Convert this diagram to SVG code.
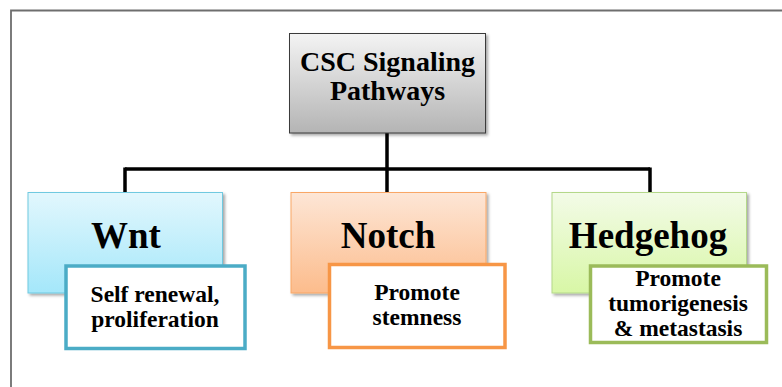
<svg xmlns="http://www.w3.org/2000/svg" width="782" height="387" viewBox="0 0 782 387">
<defs>
<linearGradient id="gGray" x1="0" y1="0" x2="0" y2="1"><stop offset="0" stop-color="#f4f4f4"/><stop offset="1" stop-color="#b4b4b4"/></linearGradient>
<linearGradient id="gBlue" x1="0" y1="0" x2="0" y2="1"><stop offset="0" stop-color="#e2f7fd"/><stop offset="1" stop-color="#a4e7fa"/></linearGradient>
<linearGradient id="gOrange" x1="0" y1="0" x2="0" y2="1"><stop offset="0" stop-color="#fde6d6"/><stop offset="1" stop-color="#fcbc8c"/></linearGradient>
<linearGradient id="gGreen" x1="0" y1="0" x2="0" y2="1"><stop offset="0" stop-color="#f3fbe8"/><stop offset="1" stop-color="#d8f7a6"/></linearGradient>
<filter id="sh" x="-10%" y="-10%" width="130%" height="130%"><feDropShadow dx="2" dy="2" stdDeviation="1.5" flood-color="#000" flood-opacity="0.35"/></filter>
</defs>
<style>
.t{font-family:'Liberation Serif','DejaVu Serif',serif;font-weight:bold;fill:#000;text-anchor:middle}
.big{font-size:37px}
.title{font-size:28px}
.sub{font-size:23.5px}
.conn{stroke:#000;stroke-width:3.5;fill:none}
.white{fill:#fff;stroke-width:3.5}
</style>
<path d="M11 387 V10.5 H782" fill="none" stroke="#6e6e6e" stroke-width="1.8"/>
<g id="connectors">
<path class="conn" d="M387 133 V169"/>
<path class="conn" d="M125 169 H650"/>
<path class="conn" d="M125 167.5 V193 M387 169 V193 M650 167.5 V193"/>
</g>
<g id="root">
<rect x="289.5" y="33.5" width="196" height="99.5" fill="url(#gGray)" stroke="#3a3a3a" stroke-width="1" filter="url(#sh)"/>
<text class="t title" font-family="Liberation Serif, serif" x="387.5" y="71">CSC Signaling</text>
<text class="t title" font-family="Liberation Serif, serif" x="387.5" y="100">Pathways</text>
</g>
<g id="wnt">
<rect x="28" y="192.5" width="194.5" height="100.5" fill="url(#gBlue)" stroke="#6fc9e0" stroke-width="1" filter="url(#sh)"/>
<text class="t big" font-family="Liberation Serif, serif" x="126" y="248">Wnt</text>
</g>
<g id="wnt-desc">
<rect class="white" x="66" y="266" width="179" height="82.5" stroke="#4bacc6"/>
<text class="t sub" font-family="Liberation Serif, serif" x="155" y="302">Self renewal,</text>
<text class="t sub" font-family="Liberation Serif, serif" x="155" y="327">proliferation</text>
</g>
<g id="notch">
<rect x="291" y="192.5" width="195" height="100.5" fill="url(#gOrange)" stroke="#f9a766" stroke-width="1" filter="url(#sh)"/>
<text class="t big" font-family="Liberation Serif, serif" x="388" y="248">Notch</text>
</g>
<g id="notch-desc">
<rect class="white" x="329.5" y="264.5" width="175.5" height="83" stroke="#f79646"/>
<text class="t sub" font-family="Liberation Serif, serif" x="417" y="300">Promote</text>
<text class="t sub" font-family="Liberation Serif, serif" x="417" y="325">stemness</text>
</g>
<g id="hedgehog">
<rect x="552" y="192.5" width="194.5" height="100.5" fill="url(#gGreen)" stroke="#b4d88a" stroke-width="1" filter="url(#sh)"/>
<text class="t big" font-family="Liberation Serif, serif" x="648" y="248">Hedgehog</text>
</g>
<g id="hedgehog-desc">
<rect class="white" x="590.5" y="266" width="176" height="76.5" stroke="#9bbb59"/>
<text class="t sub" font-family="Liberation Serif, serif" x="678" y="286">Promote</text>
<text class="t sub" font-family="Liberation Serif, serif" x="678" y="311">tumorigenesis</text>
<text class="t sub" font-family="Liberation Serif, serif" x="678" y="336">&amp; metastasis</text>
</g>
</svg>
